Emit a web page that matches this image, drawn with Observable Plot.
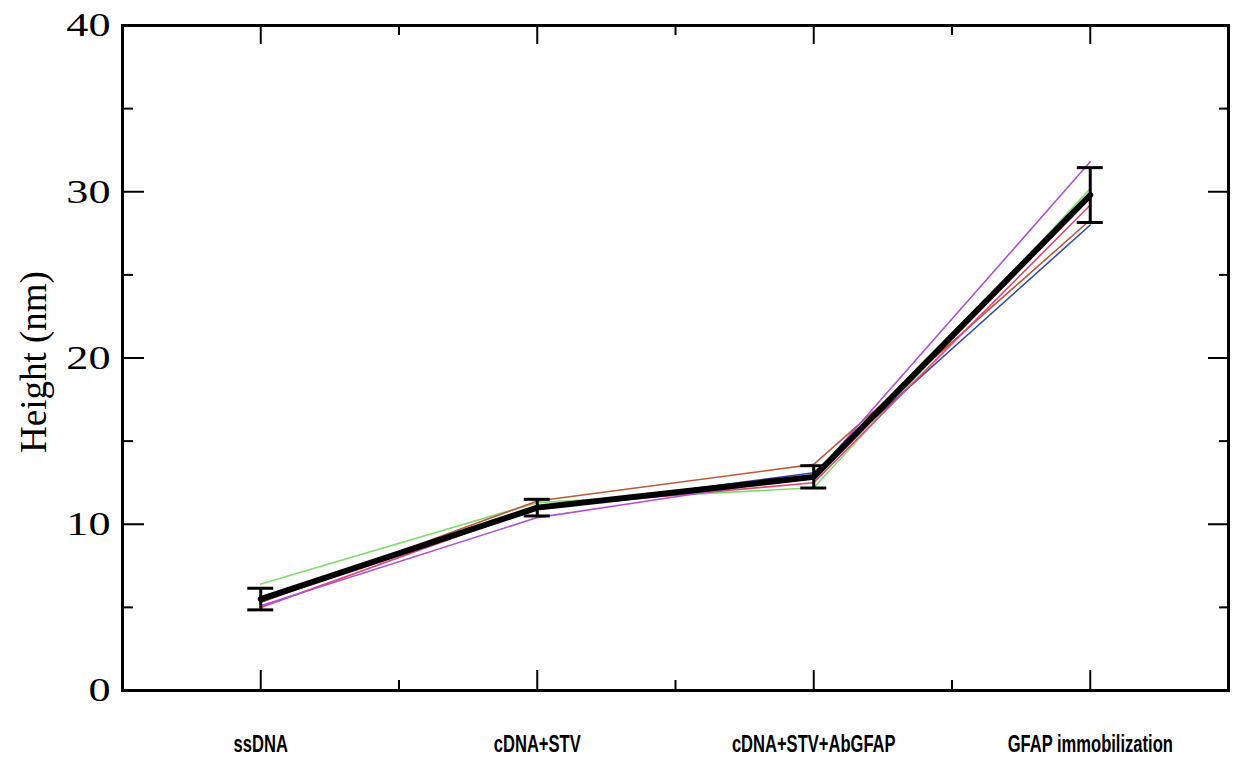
<!DOCTYPE html>
<html>
<head>
<meta charset="utf-8">
<script src="https://cdn.jsdelivr.net/npm/d3@7"></script>
<script src="https://cdn.jsdelivr.net/npm/@observablehq/plot@0.6"></script>
<style>
  html, body { margin: 0; padding: 0; background: #fff; }
  #chart svg { display: block; }
</style>
</head>
<body>
<div id="chart"></div>
<script>
// Categories (x axis)
const categories = ["ssDNA", "cDNA+STV", "cDNA+STV+AbGFAP", "GFAP immobilization"];

// Individual measurement series (nm)
const greenSeries  = [6.4, 11.3, 12.2, 30.2];
const brownSeries  = [5.3, 11.4, 13.6, 28.3];
const purpleSeries = [5.1, 10.4, 12.9, 31.8];
const blueSeries   = [5.4, 10.9, 13.1, 28.0];
const pinkSeries   = [5.0, 11.0, 12.5, 29.2];

// Mean and error
const meanSeries = [5.5, 11.0, 12.85, 29.8];
const errSeries  = [0.65, 0.5, 0.67, 1.65];

// Tick values
const yMajorTicks = [0, 10, 20, 30, 40];
const yMinorTicks = [5, 15, 25, 35];

const seriesDefs = [
  {name: "green",  values: greenSeries,  color: "#80dc70"},
  {name: "brown",  values: brownSeries,  color: "#c0583c"},
  {name: "blue",   values: blueSeries,   color: "#3048b8"},
  {name: "pink",   values: pinkSeries,   color: "#e04878"},
  {name: "purple", values: purpleSeries, color: "#b050d8"}
];

const idx = categories.map((c, i) => i);
const xMinorTicks = idx.slice(0, -1).map(i => i + 0.5);

const lineRows = seriesDefs.flatMap(s =>
  s.values.map((v, i) => ({series: s.name, color: s.color, i, v})));
const meanRows = meanSeries.map((v, i) => ({i, v, lo: v - errSeries[i], hi: v + errSeries[i]}));
const capHalf = 0.047;

const chart = Plot.plot({
  width: 1233,
  height: 763,
  marginLeft: 122,
  marginRight: 5,
  marginTop: 25,
  marginBottom: 73,
  style: {background: "#fff", color: "#000"},
  x: {type: "linear", domain: [-0.5, categories.length - 0.5]},
  y: {domain: [0, 40]},
  marks: [
    // individual series
    ...seriesDefs.map(s => Plot.line(lineRows.filter(d => d.series === s.name), {
      x: "i", y: "v", stroke: s.color, strokeWidth: 1.6
    })),
    // mean line
    Plot.line(meanRows, {x: "i", y: "v", stroke: "#000", strokeWidth: 6, strokeLinejoin: "round"}),
    // error bars
    Plot.ruleX(meanRows, {x: "i", y1: "lo", y2: "hi", stroke: "#000", strokeWidth: 3}),
    Plot.ruleY(meanRows, {y: "lo", x1: d => d.i - capHalf, x2: d => d.i + capHalf, stroke: "#000", strokeWidth: 3}),
    Plot.ruleY(meanRows, {y: "hi", x1: d => d.i - capHalf, x2: d => d.i + capHalf, stroke: "#000", strokeWidth: 3}),

    // inward ticks: y left/right
    Plot.axisY({anchor: "left", ticks: yMajorTicks, tickSize: -22, text: null, label: null, strokeWidth: 2}),
    Plot.axisY({anchor: "left", ticks: yMinorTicks, tickSize: -11, text: null, label: null, strokeWidth: 2}),
    Plot.axisY({anchor: "right", ticks: yMajorTicks, tickSize: -21, text: null, label: null, strokeWidth: 2}),
    Plot.axisY({anchor: "right", ticks: yMinorTicks, tickSize: -10, text: null, label: null, strokeWidth: 2}),
    // inward ticks: x bottom/top
    Plot.axisX({anchor: "bottom", ticks: idx, tickSize: -20, text: null, label: null, strokeWidth: 2}),
    Plot.axisX({anchor: "bottom", ticks: xMinorTicks, tickSize: -10, text: null, label: null, strokeWidth: 2}),
    Plot.axisX({anchor: "top", ticks: idx, tickSize: -18, text: null, label: null, strokeWidth: 2}),
    Plot.axisX({anchor: "top", ticks: xMinorTicks, tickSize: -9, text: null, label: null, strokeWidth: 2}),

    // y tick labels
    Plot.axisY({anchor: "left", ticks: yMajorTicks, tickSize: 0, tickPadding: 12, label: null,
      fontSize: 34, fontFamily: "Liberation Serif, serif", tickFormat: d => String(d)}),
    // x tick labels
    Plot.axisX({anchor: "bottom", ticks: idx, tickSize: 0, tickPadding: 45, label: null,
      fontSize: 23, fontWeight: "bold", fontFamily: "Liberation Sans, Arial, sans-serif",
      tickFormat: i => categories[i]}),
    // y label
    Plot.text(["Height (nm)"], {frameAnchor: "left", textAnchor: "middle", text: d => d, rotate: -90,
      dx: -88, dy: 4, fontSize: 37, fontFamily: "Liberation Serif, serif", fill: "#000"}),

    Plot.frame({stroke: "#000", strokeWidth: 3})
  ]
});
// horizontal stretch / condense of tick label glyphs to match the reference's proportions
d3.select(chart).selectAll('g[aria-label="x-axis tick label"] text').each(function() {
  const t = this.getAttribute("transform") || "";
  this.setAttribute("transform", t + " scale(0.72,1)");
});
d3.select(chart).selectAll('g[aria-label="y-axis tick label"] text').each(function() {
  const t = this.getAttribute("transform") || "";
  this.setAttribute("transform", t + " scale(1.3,1)");
});
document.getElementById("chart").append(chart);
</script>
</body>
</html>
